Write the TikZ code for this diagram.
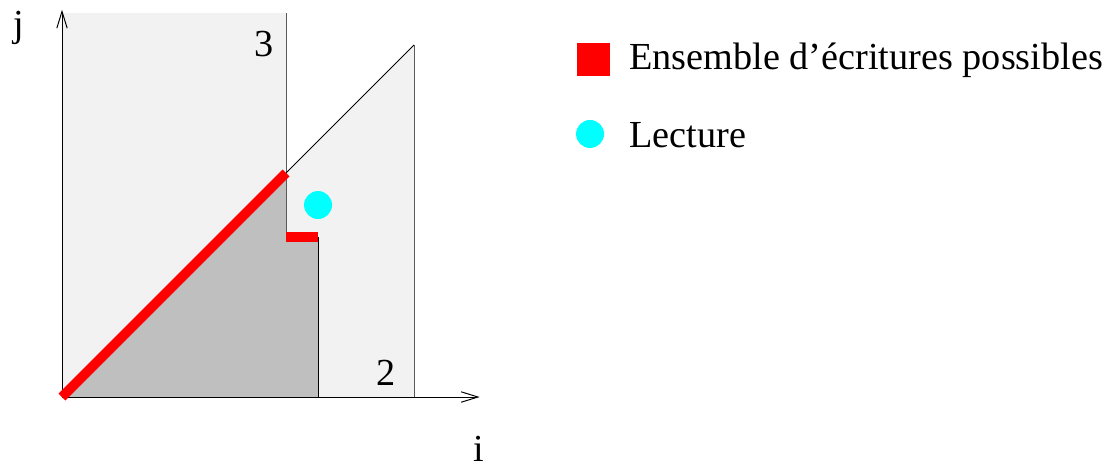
\documentclass[tikz,border=0pt]{standalone}
\usepackage{fontspec}
\setmainfont{Liberation Serif}
\usepackage{tikz}
\usetikzlibrary{arrows.meta,positioning}
\definecolor{zonelight}{RGB}{242,242,242}
\definecolor{zonedark}{RGB}{191,191,191}
\definecolor{zoneedge}{RGB}{90,90,90}
\definecolor{ecrred}{RGB}{255,0,0}
\definecolor{leccyan}{RGB}{0,255,255}

\begin{document}
\begin{tikzpicture}[x=0.8cm, y=0.8cm, font=\fontsize{27.2}{32}\selectfont,
    axis/.style={-{Straight Barb[length=4.2mm,width=2.6mm]}, line width=0.7pt},
    edge/.style={line width=0.7pt, zoneedge},
    ecriture/.style={line width=7pt, ecrred},
    lecture/.style={circle, fill=leccyan, inner sep=0pt, minimum size=0.7cm},
    lab/.style={anchor=base, inner sep=0pt}]
  \useasboundingbox (-1.9375,-2.125) rectangle (32.84,12.406);
  \coordinate (o) at (0,0);
  \coordinate (c3) at (7,7);
  \coordinate (c2) at (11,11);
  \coordinate (b) at (7,5);
  \coordinate (r) at (8,5);
  % zones
  \fill[zonelight] (o) rectangle (7,12);
  \fill[zonelight] (7,0) -- (c3) -- (c2) -- (11,0) -- cycle;
  \fill[zonedark] (o) -- (c3) -- (b) -- (r) -- (8,0) -- cycle;
  \draw[edge] (7,12) -- (b);
  \draw[line width=0.7pt] (r) -- (8,0);
  \draw[line width=0.7pt] (c3) -- (c2);
  \draw[edge] (c2) -- (11,0);
  % axes
  \draw[axis] (o) -- (13.05,0);
  \draw[axis] (o) -- (0,12.1);
  \node[lab] (li) at (13.03,-2.0) {i};
  \node[lab] (lj) at (-1.34,11.28) {j};
  \node[lab] (l3) at (6.31,10.625) {3};
  \node[lab] (l2) at (10.125,0.375) {2};
  % ecritures et lecture
  \draw[ecriture] (o) -- (c3);
  \draw[ecriture] (b) -- (r);
  \node[lecture] (lec) at (8,6) {};
  % legende
  \node[fill=ecrred, inner sep=0pt, minimum size=0.825cm] (kecr) at (16.61,10.55) {};
  \node[anchor=base west, inner sep=0pt] (tecr) at (17.72,10.22) {Ensemble d’écritures possibles};
  \node[lecture] (klec) at (16.5,8.22) {};
  \node[anchor=base west, inner sep=0pt] (tlec) at (17.72,7.81) {Lecture};
\end{tikzpicture}
\end{document}
